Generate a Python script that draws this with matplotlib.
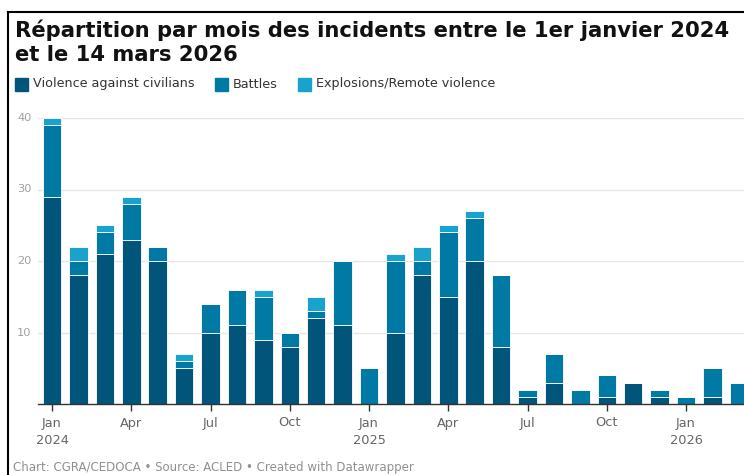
import numpy as np
import matplotlib.pyplot as plt
from matplotlib.patches import Rectangle
from matplotlib.lines import Line2D

plt.rcParams['font.family'] = ['DejaVu Sans']

# monthly counts, Jan 2024 .. Mar 2026
months = ['Jan', 'Feb', 'Mar', 'Apr', 'May', 'Jun', 'Jul', 'Aug', 'Sep', 'Oct', 'Nov', 'Dec'] * 2 + ['Jan', 'Feb', 'Mar']
violence = [29, 18, 21, 23, 20, 5, 10, 11, 9, 8, 12, 11,
            0, 10, 18, 15, 20, 8, 1, 3, 0, 1, 3, 1,
            0, 1, 0]
battles = [10, 2, 3, 5, 2, 1, 4, 5, 6, 2, 1, 9,
           5, 10, 2, 9, 6, 10, 1, 4, 2, 3, 0, 1,
           1, 4, 3]
explosions = [1, 2, 1, 1, 0, 1, 0, 0, 1, 0, 2, 0,
              0, 1, 2, 1, 1, 0, 0, 0, 0, 0, 0, 0,
              0, 0, 0]
tick_idx = [0, 3, 6, 9, 12, 15, 18, 21, 24]
tick_labels = ['Jan\n2024', 'Apr', 'Jul', 'Oct', 'Jan\n2025', 'Apr', 'Jul', 'Oct', 'Jan\n2026']

c_v, c_b, c_e = '#01547a', '#0079a5', '#1aa2cf'

W, H = 744, 475
fig = plt.figure(figsize=(W / 100, H / 100), dpi=100)
ax = fig.add_axes([38 / W, (H - 404) / H, 1 - 38 / W, (404 - 118) / H])

x = np.arange(len(months))
v = np.array(violence)
b = np.array(battles)
e = np.array(explosions)
kw = dict(width=0.7, edgecolor='white', linewidth=0.6, zorder=3)
ax.bar(x, v, color=c_v, **kw)
ax.bar(x, b, bottom=v, color=c_b, **kw)
ax.bar(x, e, bottom=v + b, color=c_e, **kw)

ax.set_xlim((38 - 52) / 26.42, (744 - 52) / 26.42)
ax.set_ylim(0, 40)
ax.set_yticks([10, 20, 30, 40])
ax.grid(axis='y', color='#e6e6e6', linewidth=1, zorder=0)
for s in ['top', 'right', 'left']:
    ax.spines[s].set_visible(False)
ax.spines['bottom'].set_color('#333333')
ax.spines['bottom'].set_linewidth(1)
ax.spines['bottom'].set_zorder(4)
ax.set_xticks(tick_idx)
ax.set_xticklabels(tick_labels, color='#666666', fontsize=9.3, linespacing=1.45)
ax.tick_params(axis='x', length=5, width=1, color='#333333', pad=4)
ax.tick_params(axis='y', length=0, labelcolor='#a0a0a0', labelsize=8.2, pad=0)
for lab in ax.get_yticklabels():
    lab.set_horizontalalignment('left')
    lab.set_x(-21 / (W - 38))
    lab.set_verticalalignment('center')

fig.text(15 / W, 1 - 30 / H, 'Répartition par mois des incidents entre le 1er janvier 2024',
         fontsize=15.2, fontweight='bold', color='#111111', va='center')
fig.text(15 / W, 1 - 55 / H, 'et le 14 mars 2026',
         fontsize=15.2, fontweight='bold', color='#111111', va='center')

# legend
lx = 15
for lbl, col in [('Violence against civilians', c_v), ('Battles', c_b), ('Explosions/Remote violence', c_e)]:
    fig.patches.append(Rectangle((lx / W, 1 - 91 / H), 13 / W, 13 / H, color=col, transform=fig.transFigure))
    t = fig.text((lx + 18) / W, 1 - 84 / H, lbl, fontsize=9.2, color='#333333', va='center')
    fig.canvas.draw()
    bb = t.get_window_extent()
    lx = bb.x1 + 20

fig.text(13 / W, 1 - 468 / H, 'Chart: CGRA/CEDOCA • Source: ACLED • Created with Datawrapper',
         fontsize=8.5, color='#909090', va='center')

# screenshot frame
fig.add_artist(Line2D([8 / W, 8 / W], [0, 1 - 12 / H], color='black', linewidth=1.5, transform=fig.transFigure))
fig.add_artist(Line2D([8 / W, 1], [1 - 12 / H, 1 - 12 / H], color='black', linewidth=1.5, transform=fig.transFigure))

fig.savefig('out.png', dpi=100)
